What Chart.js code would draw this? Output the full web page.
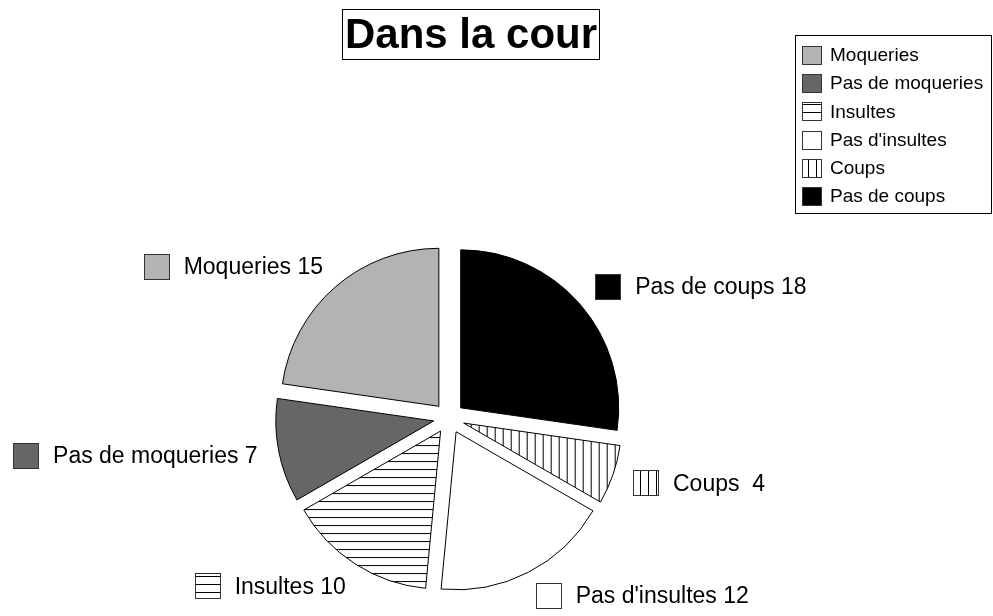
<!DOCTYPE html>
<html>
<head>
<meta charset="utf-8">
<title>Dans la cour</title>
<script src="https://cdn.jsdelivr.net/npm/chart.js@4"></script>
<style>
  html, body { margin: 0; padding: 0; background: #fff; }
  canvas { display: block; }
</style>
</head>
<body>
<canvas id="chart" width="993" height="616"></canvas>
<script>
// slices, clockwise from 12 o'clock
var categories = ['Pas de coups', 'Coups ', "Pas d'insultes", 'Insultes', 'Pas de moqueries', 'Moqueries'];
var counts = [18, 4, 12, 10, 7, 15];
var chartTitle = 'Dans la cour';

var FONT = '"Liberation Sans", Arial, sans-serif';
var EXPLODE = 15.5;

var canvas = document.getElementById('chart');
var ctx = canvas.getContext('2d');

function stripes(vertical) {
    var c = document.createElement('canvas');
    c.width = 8;
    c.height = 8;
    var g = c.getContext('2d');
    g.fillStyle = '#fff';
    g.fillRect(0, 0, 8, 8);
    g.fillStyle = '#000';
    if (vertical) g.fillRect(0, 0, 1, 8);
    else g.fillRect(0, 0, 8, 1);
    return ctx.createPattern(c, 'repeat');
}

var fills = ['#000000', stripes(true), '#ffffff', stripes(false), '#666666', '#b3b3b3'];

// pull every slice out from the centre by the same distance
var explodePlugin = {
    id: 'explode',
    beforeDatasetDraw: function (chart, args) {
        var c = chart.ctx;
        args.meta.data.forEach(function (arc) {
            var mid = (arc.startAngle + arc.endAngle) / 2;
            c.save();
            c.translate(Math.cos(mid) * EXPLODE, Math.sin(mid) * EXPLODE);
            arc.draw(c);
            c.restore();
        });
        return false;
    }
};

function swatch(c, x, y, w, h, fill) {
    c.fillStyle = fill;
    c.fillRect(x, y, w, h);
    c.strokeStyle = '#333';
    c.lineWidth = 1;
    c.strokeRect(x + 0.5, y + 0.5, w - 1, h - 1);
}

// "Name value" labels outside each slice
var sliceLabels = {
    id: 'sliceLabels',
    afterDatasetsDraw: function (chart) {
        var c = chart.ctx;
        var meta = chart.getDatasetMeta(0);
        c.save();
        c.font = '23px ' + FONT;
        c.textBaseline = 'middle';
        c.fillStyle = '#000';
        meta.data.forEach(function (arc, i) {
            var mid = (arc.startAngle + arc.endAngle) / 2;
            var d = arc.outerRadius + 42;
            var ax = arc.x + Math.cos(mid) * d;
            var ay = arc.y + Math.sin(mid) * d;
            var text = categories[i] + ' ' + counts[i];
            var tw = c.measureText(text).width;
            var sx;
            if (Math.cos(mid) >= 0) {
                sx = ax - 5;
            } else {
                sx = ax + 5 - tw - 40;
            }
            swatch(c, Math.round(sx), Math.round(ay - 13), 26, 26, fills[i]);
            c.fillStyle = '#000';
            c.textAlign = 'left';
            c.fillText(text, sx + 40, ay + 1);
        });
        c.restore();
    }
};

// boxed title and boxed legend
var frame = {
    id: 'frame',
    afterDraw: function (chart) {
        var c = chart.ctx;
        c.save();
        c.strokeStyle = '#000';
        c.lineWidth = 1;
        c.strokeRect(342.5, 9.5, 257, 50);
        c.font = 'bold 42px ' + FONT;
        c.textAlign = 'center';
        c.textBaseline = 'middle';
        c.fillStyle = '#000';
        c.fillText(chartTitle, 471, 36);

        c.strokeStyle = '#000';
        c.strokeRect(795.5, 35.5, 196, 178);
        c.font = '19px ' + FONT;
        c.textAlign = 'left';
        for (var j = 0; j < categories.length; j++) {
            var i = categories.length - 1 - j;
            var yc = 55 + j * 28.2;
            swatch(c, 802, Math.round(yc - 9), 20, 19, fills[i]);
            c.fillStyle = '#000';
            c.fillText(categories[i], 830, yc + 1);
        }
        c.restore();
    }
};

new Chart(ctx, {
    type: 'pie',
    data: {
        labels: categories,
        datasets: [{
            data: counts,
            backgroundColor: fills,
            borderColor: '#000',
            borderWidth: 1,
            borderJoinStyle: 'miter'
        }]
    },
    options: {
        responsive: false,
        animation: false,
        events: [],
        radius: 158,
        layout: { padding: { left: 0, right: 95, top: 220, bottom: 0 } },
        plugins: {
            legend: { display: false },
            title: { display: false },
            tooltip: { enabled: false }
        }
    },
    plugins: [explodePlugin, sliceLabels, frame]
});
</script>
</body>
</html>
